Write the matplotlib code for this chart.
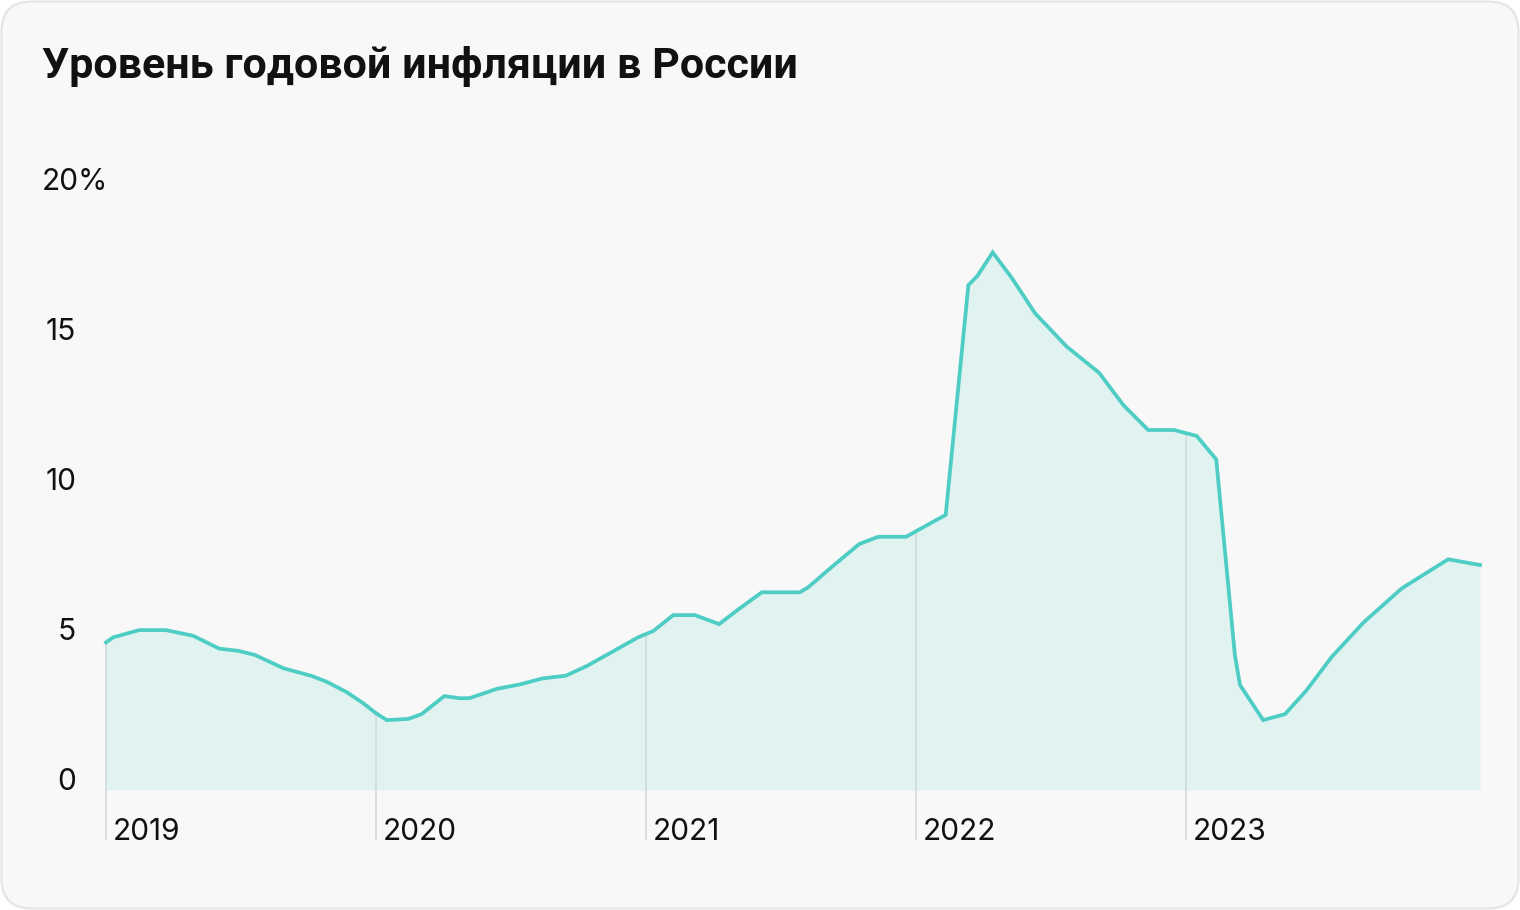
import matplotlib
matplotlib.use("Agg")
import matplotlib.pyplot as plt
import matplotlib.transforms as mtransforms
from matplotlib.patches import FancyBboxPatch
import numpy as np


###================ Data ==========================================###

# position in years since 1 Jan 2019
year_offset = [
    0.000, 0.027, 0.123, 0.222, 0.323, 0.420, 0.490, 0.552, 0.657, 0.706,
    0.762, 0.817, 0.892, 0.953, 1.000, 1.040, 1.120, 1.169, 1.253, 1.309,
    1.346, 1.447, 1.533, 1.617, 1.703, 1.780, 1.854, 1.971, 2.027, 2.101,
    2.181, 2.271, 2.336, 2.429, 2.570, 2.601, 2.694, 2.790, 2.860, 2.963,
    3.027, 3.110, 3.194, 3.227, 3.284, 3.354, 3.441, 3.558, 3.678, 3.768,
    3.860, 3.956, 4.040, 4.112, 4.181, 4.200, 4.286, 4.367, 4.447, 4.540,
    4.657, 4.799, 4.971, 5.089,
]
inflation = [
    4.92, 5.09, 5.33, 5.33, 5.14, 4.71, 4.64, 4.50, 4.06, 3.94,
    3.80, 3.61, 3.26, 2.89, 2.56, 2.33, 2.37, 2.53, 3.13, 3.06,
    3.06, 3.37, 3.52, 3.72, 3.81, 4.13, 4.50, 5.09, 5.30, 5.83,
    5.83, 5.53, 5.98, 6.59, 6.59, 6.76, 7.48, 8.20, 8.44, 8.44,
    8.76, 9.17, 16.83, 17.13, 17.92, 17.08, 15.89, 14.78, 13.91, 12.83,
    12.00, 12.00, 11.80, 11.02, 4.50, 3.50, 2.33, 2.53, 3.33, 4.44,
    5.58, 6.72, 7.69, 7.50,
]
years = [2019, 2020, 2021, 2022, 2023]
y_ticks = [0, 5, 10, 15, 20]
y_labels = ["0", "5", "10", "15", "20%"]
title = "Уровень годовой инфляции в России"

###================ Style =================###

W, H = 1520, 910
LINE = "#4ecdc4"
FILL = "#e0f3f1"
CARD = "#f8f8f8"
EDGE = "#e4e4e4"
GRID = "#d2dad9"
TEXT = "#111111"

plt.rcParams["font.family"] = ["Inter", "DejaVu Sans"]

fig = plt.figure(figsize=(W / 100, H / 100), dpi=100, facecolor="white")

card = FancyBboxPatch(
    (1.5, 1.5), W - 3, H - 3,
    boxstyle="round,pad=0,rounding_size=30",
    transform=mtransforms.IdentityTransform(),
    facecolor=CARD, edgecolor=EDGE, linewidth=1.5, zorder=0,
)
fig.add_artist(card)

# axes: x 2019.0 at px 106, y 0 at px 790, 20 at px 190
x0_px, x1_px = 106, 1480
px_per_year = 270
ax = fig.add_axes([x0_px / W, (H - 790) / H, (x1_px - x0_px) / W, 600 / H])
ax.set_xlim(2019, 2019 + (x1_px - x0_px) / px_per_year)
ax.set_ylim(0, 20)
ax.axis("off")
ax.patch.set_alpha(0)

x = 2019 + np.array(year_offset)
y = np.array(inflation)

ax.fill_between(x, 0, y, color=FILL, linewidth=0, zorder=1)

# year separators: from the curve down below the axis
below = -50 / 30
ax.vlines(years, below, np.interp(years, x, y), color=GRID, linewidth=1.2,
          zorder=2, clip_on=False)

ax.plot(x, y, color=LINE, linewidth=2.7, solid_joinstyle="miter", zorder=3,
        clip_on=False)

LABEL_SIZE = 21.5

# year labels
year_tr = mtransforms.offset_copy(ax.transData, fig=fig, x=7, y=0, units="dots")
for yr in years:
    ax.text(yr, below, str(yr), transform=year_tr, ha="left", va="baseline",
            fontsize=LABEL_SIZE, color=TEXT, clip_on=False)

# y labels, numbers right aligned at px 75
lab_tr = mtransforms.blended_transform_factory(
    mtransforms.IdentityTransform(), ax.transData)
for v, lab in zip(y_ticks, y_labels):
    if lab.endswith("%"):
        ax.text(42, v, lab, transform=lab_tr, ha="left", va="baseline",
                fontsize=LABEL_SIZE, color=TEXT)
    else:
        ax.text(76, v, lab, transform=lab_tr, ha="right", va="baseline",
                fontsize=LABEL_SIZE, color=TEXT)

fig.text(42 / W, 1 - 78 / H, title, ha="left", va="baseline",
         fontsize=31, fontweight="bold", color=TEXT, family=["Roboto", "DejaVu Sans"])

fig.savefig("out.png", dpi=100, facecolor="white")
